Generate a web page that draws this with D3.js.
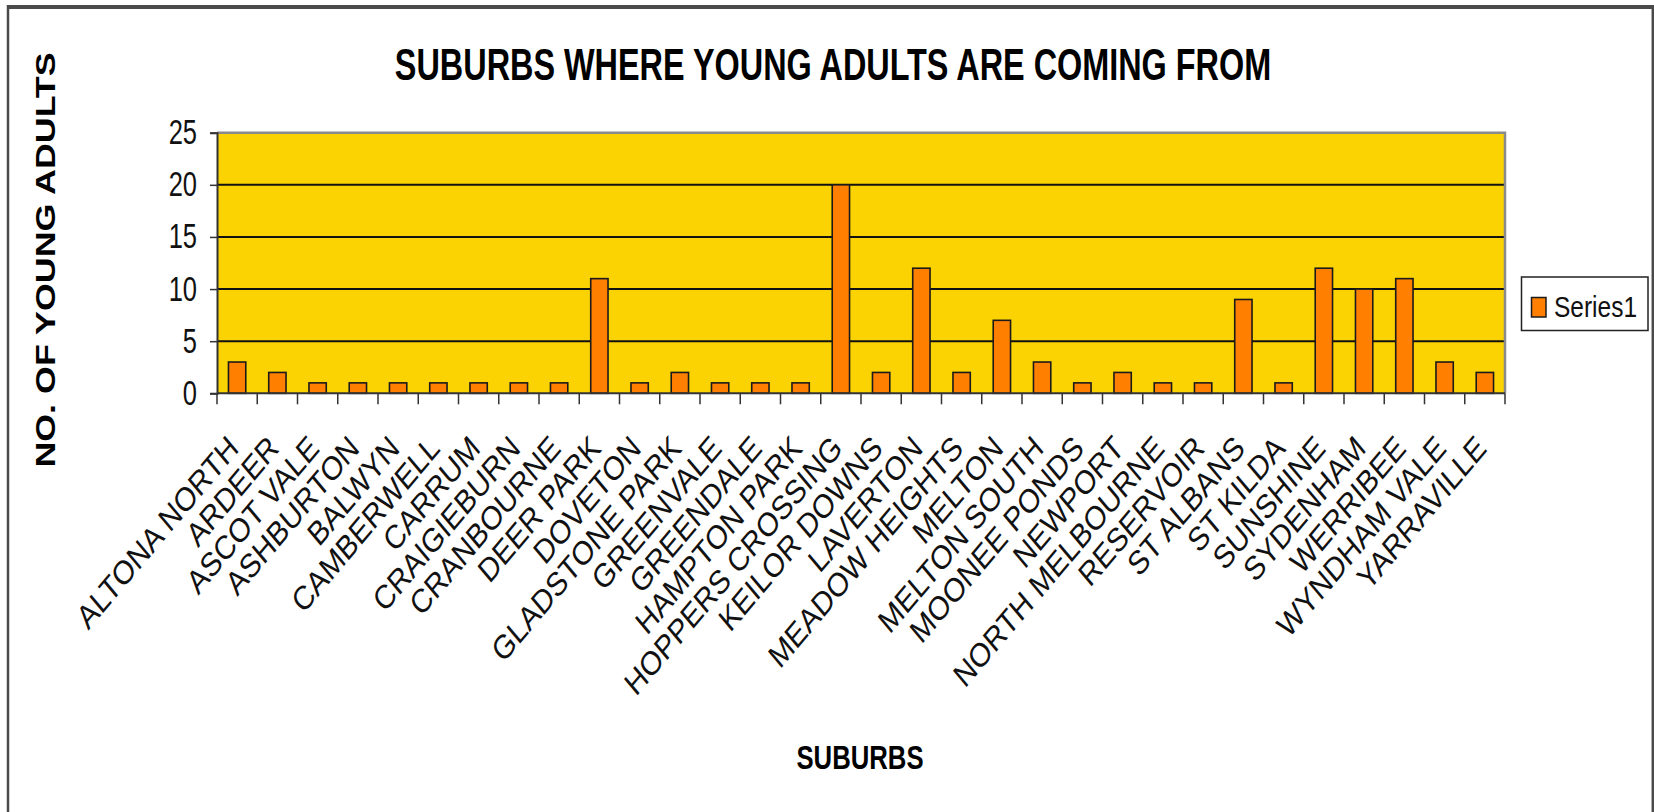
<!DOCTYPE html>
<html>
<head>
<meta charset="utf-8">
<script src="https://cdn.jsdelivr.net/npm/d3@7"></script>
<style>
  html, body { margin: 0; padding: 0; background: #fff; }
  svg { display: block; font-family: "Liberation Sans", Arial, sans-serif; }
</style>
</head>
<body>
<svg id="chart" width="1654" height="812"></svg>
<script>
const categories = ["ALTONA NORTH","ARDEER","ASCOT VALE","ASHBURTON","BALWYN","CAMBERWELL","CARRUM","CRAIGIEBURN","CRANBOURNE","DEER PARK","DOVETON","GLADSTONE PARK","GREENVALE","GREENDALE","HAMPTON PARK","HOPPERS CROSSING","KEILOR DOWNS","LAVERTON","MEADOW HEIGHTS","MELTON","MELTON SOUTH","MOONEE PONDS","NEWPORT","NORTH MELBOURNE","RESERVOIR","ST ALBANS","ST KILDA","SUNSHINE","SYDENHAM","WERRIBEE","WYNDHAM VALE","YARRAVILLE"];
const series1 = [3,2,1,1,1,1,1,1,1,11,1,2,1,1,1,20,2,12,2,7,3,1,2,1,1,9,1,12,10,11,3,2];
const yTicks = [0,5,10,15,20,25];
const seriesName = "Series1";
const titleText = "SUBURBS WHERE YOUNG ADULTS ARE COMING FROM";
const xTitle = "SUBURBS";
const yTitle = "NO. OF YOUNG ADULTS";

const svg = d3.select("#chart");
const W = 1654, H = 812;
const plot = {left: 217, right: 1505, top: 132.7, bottom: 393.3};

const x = d3.scaleBand().domain(categories).range([plot.left, plot.right]).padding(0);
const y = d3.scaleLinear().domain([0, 25]).range([plot.bottom, plot.top]);

// outer frame
svg.append("line").attr("x1", 7).attr("x2", W).attr("y1", 7).attr("y2", 7)
  .attr("stroke", "#4a4a4a").attr("stroke-width", 4);
svg.append("line").attr("x1", 8).attr("x2", 8).attr("y1", 5).attr("y2", H)
  .attr("stroke", "#4a4a4a").attr("stroke-width", 2.5);
svg.append("line").attr("x1", 1652.8).attr("x2", 1652.8).attr("y1", 5).attr("y2", H)
  .attr("stroke", "#4a4a4a").attr("stroke-width", 2.5);

// title
svg.append("text").attr("transform", "translate(833,80) scale(1,1.37)")
  .attr("text-anchor", "middle").attr("font-weight", "bold").attr("font-size", 32.4)
  .attr("fill", "#000").text(titleText);

// plot background
svg.append("rect").attr("x", plot.left).attr("y", plot.top)
  .attr("width", plot.right - plot.left).attr("height", plot.bottom - plot.top)
  .attr("fill", "#FCD302");

// gridlines
svg.append("g").selectAll("line").data(yTicks.filter(d => d > 0 && d < 25)).join("line")
  .attr("x1", plot.left).attr("x2", plot.right)
  .attr("y1", d => y(d)).attr("y2", d => y(d))
  .attr("stroke", "#111").attr("stroke-width", 2);

// plot border (top/right)
svg.append("path")
  .attr("d", `M${plot.left},${plot.top}H${plot.right}V${plot.bottom}`)
  .attr("fill", "none").attr("stroke", "#8a8a8a").attr("stroke-width", 2.5);

// bars
const bw = x.step() * 0.43;
svg.append("g").selectAll("rect").data(series1).join("rect")
  .attr("x", (d, i) => x(categories[i]) + (x.step() - bw) / 2)
  .attr("y", d => y(d))
  .attr("width", bw)
  .attr("height", d => y(0) - y(d))
  .attr("fill", "#FF8000").attr("stroke", "#1a1a1a").attr("stroke-width", 1.6);

// y axis
const yAxis = svg.append("g").attr("transform", `translate(${plot.left},0)`)
  .call(d3.axisLeft(y).tickValues(yTicks).tickSize(7).tickPadding(13).tickFormat(d3.format("d")));
yAxis.select(".domain").attr("stroke", "#333").attr("stroke-width", 2);
yAxis.selectAll(".tick line").attr("stroke", "#333").attr("stroke-width", 1.5);
yAxis.selectAll(".tick text").attr("font-size", 25.5).attr("fill", "#111")
  .attr("font-family", "Liberation Sans, Arial, sans-serif")
  .attr("transform", "scale(1,1.34)");

// x axis line and boundary ticks
const xg = svg.append("g");
xg.append("line").attr("x1", plot.left).attr("x2", plot.right)
  .attr("y1", y(0)).attr("y2", y(0)).attr("stroke", "#333").attr("stroke-width", 2);
const bounds = d3.range(categories.length + 1).map(i => plot.left + i * x.step());
xg.selectAll("line.tk").data(bounds).join("line").attr("class", "tk")
  .attr("x1", d => d).attr("x2", d => d)
  .attr("y1", y(0)).attr("y2", y(0) + 11)
  .attr("stroke", "#333").attr("stroke-width", 1.5);

// x labels
svg.append("g").selectAll("text").data(categories).join("text")
  .attr("transform", d => `translate(${x(d) + x.bandwidth() / 2 + 3},450) scale(1,1.19) rotate(-45)`)
  .attr("text-anchor", "end").attr("font-size", 28).attr("fill", "#111")
  .text(d => d);

// axis titles
svg.append("text").attr("transform", "translate(860,769) scale(1,1.3)")
  .attr("text-anchor", "middle").attr("font-weight", "bold").attr("font-size", 25.7)
  .text(xTitle);

svg.append("text").attr("transform", "translate(55,260) scale(1,1.28) rotate(-90)")
  .attr("text-anchor", "middle").attr("font-weight", "bold").attr("font-size", 28)
  .text(yTitle);

// legend
const lg = svg.append("g");
lg.append("rect").attr("x", 1521.5).attr("y", 277).attr("width", 126.5).attr("height", 53.5)
  .attr("fill", "#fff").attr("stroke", "#222").attr("stroke-width", 1.5);
lg.append("rect").attr("x", 1531.5).attr("y", 297.5).attr("width", 14.5).attr("height", 19.5)
  .attr("fill", "#FF8000").attr("stroke", "#1a1a1a").attr("stroke-width", 1.5);
lg.append("text").attr("transform", "translate(1554,317) scale(1,1.24)")
  .attr("font-size", 24.5).attr("fill", "#111")
  .text(seriesName);
</script>
</body>
</html>
